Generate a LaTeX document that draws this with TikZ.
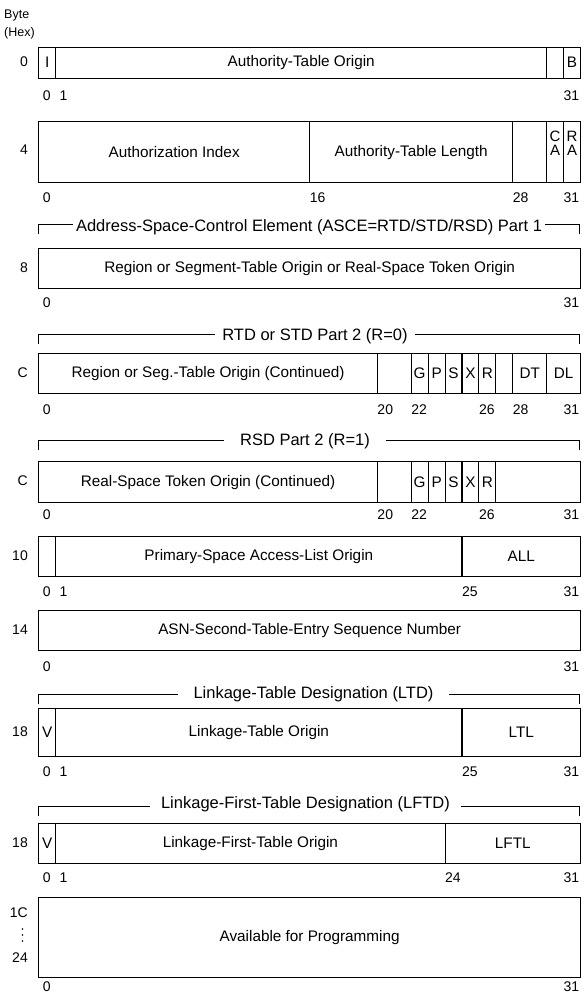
\documentclass[tikz,border=0pt]{standalone}
\usepackage{fontspec}
\setmainfont{Liberation Sans}
\begin{document}
\begin{tikzpicture}[x=1pt,y=-1pt]
\tikzset{
 fld/.style={draw, line width=1.1pt, inner sep=0pt, align=center, font=\fontsize{15.3}{16}\selectfont},
 num/.style={inner sep=0pt, font=\fontsize{14}{14}\selectfont},
 bytel/.style={inner sep=0pt, anchor=east, font=\fontsize{14}{14}\selectfont},
 small/.style={inner sep=0pt, anchor=west, font=\fontsize{12.5}{13}\selectfont},
 hdrline/.style={line width=1pt},
 hdrtext/.style={fill=white, inner ysep=1pt, font=\fontsize{16.5}{16.5}\selectfont},
 pair/.style={inner sep=0pt, align=center, font=\fontsize{15}{15}\selectfont}
}
\useasboundingbox (0,0) rectangle (582,994);
% field macro: name, bit from, bit to, top, bottom, text
\newcommand{\fld}[6]{%
 \pgfmathsetmacro{\fldx}{38.2+16.93*#2}%
 \pgfmathsetmacro{\fldw}{16.93*(#3-#2)}%
 \pgfmathsetmacro{\fldh}{#5-#4}%
 \node[fld, minimum width=\fldw pt, minimum height=\fldh pt, anchor=north west] (#1) at (\fldx,#4) {#6};}
% bit label macro: name, bit, y, text
\newcommand{\bitl}[4]{%
 \pgfmathsetmacro{\fldx}{38.2+16.93*(#2+0.5)}%
 \node[num] (#1) at (\fldx,#3) {#4};}
% header macro: name, line y, text y, x centre, gap, text
\newcommand{\hdr}[6]{%
 \coordinate (#1-l) at (38.2,#2+10);
 \coordinate (#1-r) at (579.8,#2+10);
 \draw[hdrline] (#1-l) -- (38.2,#2) -- (579.8,#2) -- (#1-r);
 \node[hdrtext, inner xsep=#5pt] (#1) at (#4,#3) {#6};}

\node[small] (byte) at (4,15) {Byte};
\node[small] (hex) at (4,33) {(Hex)};

% Row 0
\node[bytel] (b0) at (28,62) {0};
\fld{r0i}{0}{1}{46.5}{77.5}{I}
\fld{r0a}{1}{30}{46.5}{77.5}{Authority-Table Origin}
\fld{r0z}{30}{31}{46.5}{77.5}{}
\fld{r0b}{31}{32}{46.5}{77.5}{B}
\bitl{r0n0}{0}{96}{0}
\bitl{r0n1}{1}{96}{1}
\bitl{r0n31}{31}{96}{31}

% Row 4
\node[bytel] (b4) at (28,150) {4};
\fld{r4ai}{0}{16}{121}{182}{Authorization Index}
\fld{r4atl}{16}{28}{121}{182}{Authority-Table Length}
\fld{r4z}{28}{30}{121}{182}{}
\fld{r4ca}{30}{31}{121}{182}{}
\fld{r4ra}{31}{32}{121}{182}{}
\node[pair] (r4cat) at (r4ca.center) [yshift=9pt] {C\\[-1pt]A};
\node[pair] (r4rat) at (r4ra.center) [yshift=9pt] {R\\[-1pt]A};
\bitl{r4n0}{0}{198}{0}
\bitl{r4n16}{16}{198}{16}
\bitl{r4n28}{28}{198}{28}
\bitl{r4n31}{31}{198}{31}

% ASCE header
\hdr{h1}{224}{227}{309}{3}{Address-Space-Control Element (ASCE=RTD/STD/RSD) Part 1}

% Row 8
\node[bytel] (b8) at (28,268) {8};
\fld{r8}{0}{32}{248}{288}{Region or Segment-Table Origin or Real-Space Token Origin}
\bitl{r8n0}{0}{303}{0}
\bitl{r8n31}{31}{303}{31}

% RTD header
\hdr{h2}{334}{336}{315}{7}{RTD or STD Part 2 (R=0)}

% Row C (1)
\node[bytel] (bc1) at (28,373) {C};
\fld{c1o}{0}{20}{353}{393}{Region or Seg.-Table Origin (Continued)}
\fld{c1z}{20}{22}{353}{393}{}
\fld{c1g}{22}{23}{353}{393}{G}
\fld{c1p}{23}{24}{353}{393}{P}
\fld{c1s}{24}{25}{353}{393}{S}
\fld{c1x}{25}{26}{353}{393}{X}
\fld{c1r}{26}{27}{353}{393}{R}
\fld{c1y}{27}{28}{353}{393}{}
\fld{c1dt}{28}{30}{353}{393}{DT}
\fld{c1dl}{30}{32}{353}{393}{DL}
\bitl{c1n0}{0}{410}{0}
\bitl{c1n20}{20}{410}{20}
\bitl{c1n22}{22}{410}{22}
\bitl{c1n26}{26}{410}{26}
\bitl{c1n28}{28}{410}{28}
\bitl{c1n31}{31}{410}{31}

% RSD header
\hdr{h3}{440}{441}{305}{16}{RSD Part 2 (R=1)}

% Row C (2)
\node[bytel] (bc2) at (28,481) {C};
\fld{c2o}{0}{20}{461}{502}{Real-Space Token Origin (Continued)}
\fld{c2z}{20}{22}{461}{502}{}
\fld{c2g}{22}{23}{461}{502}{G}
\fld{c2p}{23}{24}{461}{502}{P}
\fld{c2s}{24}{25}{461}{502}{S}
\fld{c2x}{25}{26}{461}{502}{X}
\fld{c2r}{26}{27}{461}{502}{R}
\fld{c2y}{27}{32}{461}{502}{}
\bitl{c2n0}{0}{515}{0}
\bitl{c2n20}{20}{515}{20}
\bitl{c2n22}{22}{515}{22}
\bitl{c2n26}{26}{515}{26}
\bitl{c2n31}{31}{515}{31}

% Row 10
\node[bytel] (b10) at (28,556) {10};
\fld{r10z}{0}{1}{536}{576}{}
\fld{r10o}{1}{25}{536}{576}{Primary-Space Access-List Origin}
\fld{r10all}{25}{32}{536}{576}{ALL}
\bitl{r10n0}{0}{592}{0}
\bitl{r10n1}{1}{592}{1}
\bitl{r10n25}{25}{592}{25}
\bitl{r10n31}{31}{592}{31}

% Row 14
\node[bytel] (b14) at (28,630) {14};
\fld{r14}{0}{32}{610}{650}{ASN-Second-Table-Entry Sequence Number}
\bitl{r14n0}{0}{667}{0}
\bitl{r14n31}{31}{667}{31}

% LTD header
\hdr{h4}{694}{694}{313.5}{16}{Linkage-Table Designation (LTD)}

% Row 18
\node[bytel] (b18a) at (28,732) {18};
\fld{r18v}{0}{1}{708}{756}{V}
\fld{r18o}{1}{25}{708}{756}{Linkage-Table Origin}
\fld{r18l}{25}{32}{708}{756}{LTL}
\bitl{r18n0}{0}{772}{0}
\bitl{r18n1}{1}{772}{1}
\bitl{r18n25}{25}{772}{25}
\bitl{r18n31}{31}{772}{31}

% LFTD header
\hdr{h5}{806}{804}{305.5}{11}{Linkage-First-Table Designation (LFTD)}

% Row 18 (b)
\node[bytel] (b18b) at (28,843) {18};
\fld{r18bv}{0}{1}{823}{863}{V}
\fld{r18bo}{1}{24}{823}{863}{Linkage-First-Table Origin}
\fld{r18bl}{24}{32}{823}{863}{LFTL}
\bitl{r18bn0}{0}{878}{0}
\bitl{r18bn1}{1}{878}{1}
\bitl{r18bn24}{24}{878}{24}
\bitl{r18bn31}{31}{878}{31}

% Row 1C
\node[bytel] (b1c) at (28,913) {1C};
\fill (22.5,929) circle (0.9pt) (22.5,935) circle (0.9pt) (22.5,941) circle (0.9pt);
\node[bytel] (b24) at (28,958) {24};
\fld{r1c}{0}{32}{897}{977}{Available for Programming}
\bitl{r1cn0}{0}{987}{0}
\bitl{r1cn31}{31}{987}{31}
\end{tikzpicture}
\end{document}
